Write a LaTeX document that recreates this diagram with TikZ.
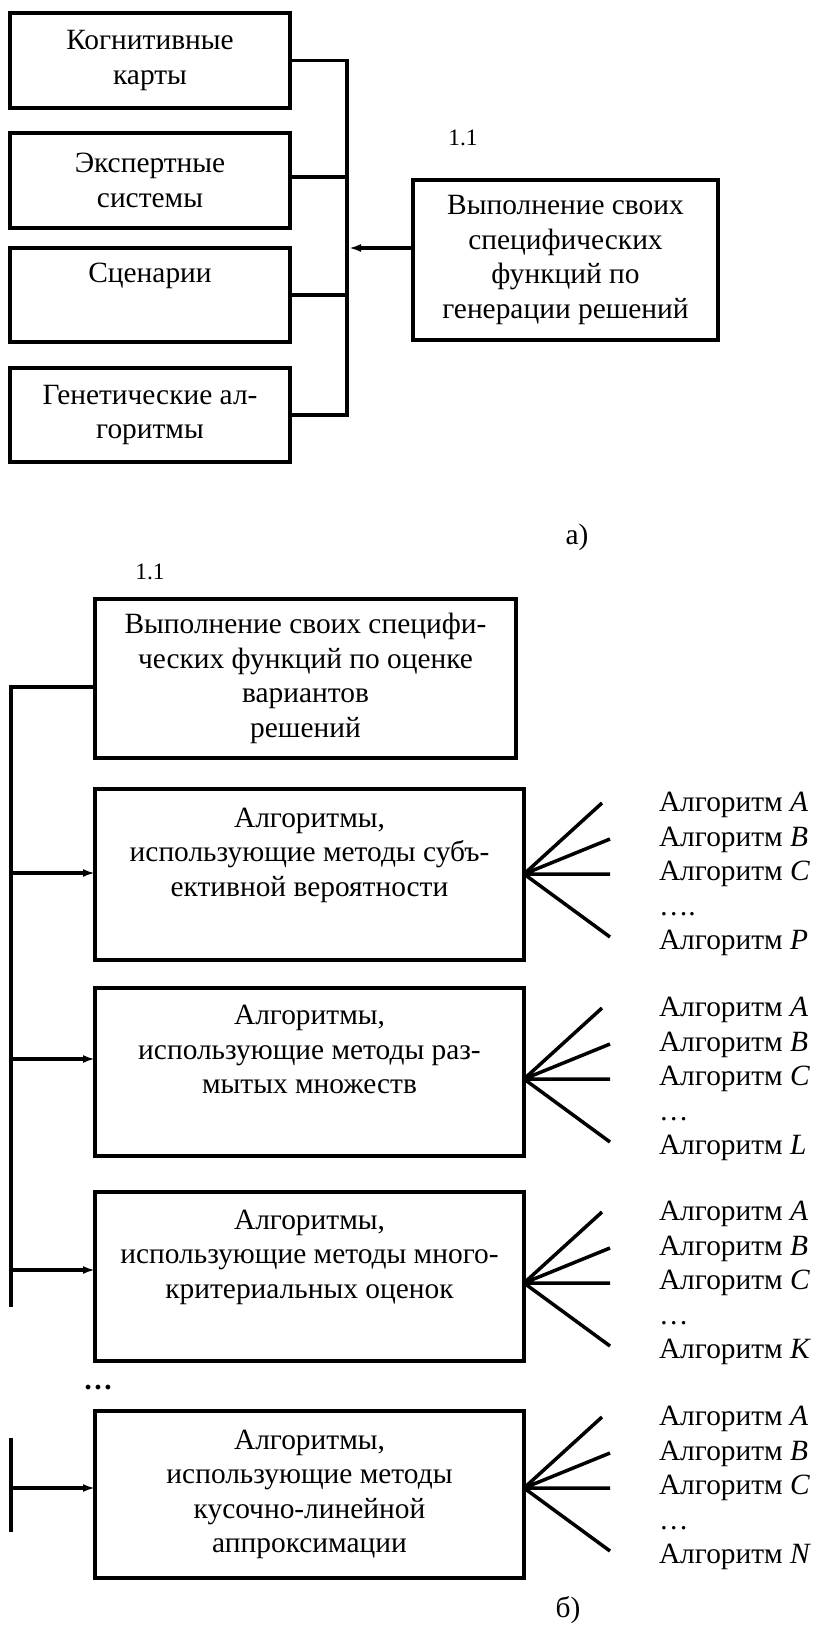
\documentclass[tikz,border=0pt]{standalone}
\usepackage{fontspec}
\setmainfont{Liberation Serif}
\usetikzlibrary{arrows.meta}
\begin{document}
\begin{tikzpicture}[x=1pt,y=-1pt,
  every node/.style={inner sep=0pt,outer sep=0pt},
  txt/.style={font=\fontsize{29.4}{34.5}\selectfont},
  small/.style={font=\fontsize{23.5}{28}\selectfont},
  blk/.style={draw,line width=3.5pt,txt,align=center,anchor=center},
  listtxt/.style={font=\fontsize{29.4}{34.5}\selectfont,align=left,anchor=west},
  wire/.style={line width=3.5pt,line cap=rect},
  fan/.style={line width=3.5pt},
  feed/.style={line width=3.5pt,-{Latex[length=12pt,width=8pt]}},
]
\useasboundingbox (0,0) rectangle (816,1631);

% ---------- a) generation of decisions ----------
\node[blk,minimum width=280pt,minimum height=95pt] (cog)  at (150,60.5) {Когнитивные\\карты};
\node[blk,minimum width=280pt,minimum height=95pt] (exp)  at (150,180.5) {Экспертные\\системы};
\node[blk,minimum width=280pt,minimum height=94pt] (scen) at (150,295) {Сценарии\\\strut};
\node[blk,minimum width=280pt,minimum height=94pt] (gen)  at (150,415) {Генетические ал-\\горитмы};
\node[blk,minimum width=305pt,minimum height=160pt] (genf) at (565.5,260)
  {Выполнение своих\\специфических\\функций по\\генерации решений};
\node[small] (numa) at (463,138) {1.1};
\node[txt] (capa) at (577,537) {а)};

\coordinate (bus) at (347,0);
\draw[wire] (cog.east) -- (cog.east -| bus);
\draw[wire] (exp.east |- 0,177) -- (bus |- 0,177);
\draw[wire] (scen.east) -- (scen.east -| bus);
\draw[wire] (gen.east) -- (gen.east -| bus);
\draw[wire] (cog.east -| bus) -- (gen.east -| bus);
\draw[feed] (genf.west |- 0,248) -- (349,248);

% ---------- b) evaluation of decision variants ----------
\node[small] (numb) at (150,572) {1.1};
\node[blk,minimum width=421pt,minimum height=159pt] (eval) at (305.5,678.5)
  {Выполнение своих специфи-\\ческих функций по оценке\\вариантов\\решений};
\node[blk,minimum width=429pt,minimum height=171pt] (subj) at (309.5,874.5)
  {Алгоритмы,\\использующие методы субъ-\\ективной вероятности\\\strut};
\node[blk,minimum width=429pt,minimum height=168pt] (fuzzy) at (309.5,1072)
  {Алгоритмы,\\использующие методы раз-\\мытых множеств\\\strut};
\node[blk,minimum width=429pt,minimum height=169pt] (multi) at (309.5,1276.5)
  {Алгоритмы,\\использующие методы много-\\критериальных оценок\\\strut};
\node[blk,minimum width=429pt,minimum height=167pt] (piece) at (309.5,1494.5)
  {Алгоритмы,\\использующие методы\\кусочно-линейной\\аппроксимации};
\node[txt] (more) at (98,1388) {\textbf{…}};
\node[txt] (capb) at (568,1610) {б)};

% trunk feeding the method groups
\coordinate (trT) at (11,687);
\coordinate (trB) at (11,1305);
\draw[wire] (eval.west |- trT) -- (trT) -- (trB);
\draw[feed] (trT |- 0,873)  -- (subj.west |- 0,873);
\draw[feed] (trT |- 0,1059) -- (fuzzy.west |- 0,1059);
\draw[feed] (trT |- 0,1270) -- (multi.west |- 0,1270);
\coordinate (tsT) at (11,1440);
\coordinate (tsB) at (11,1530);
\draw[wire] (tsT) -- (tsB);
\draw[feed] (tsT |- 0,1488) -- (piece.west |- 0,1488);

% fans of individual algorithms
\foreach \b/\y/\z/\d in {subj/874/P/….,fuzzy/1079/L/…,multi/1283/K/…,piece/1488/N/…}{
  \coordinate (\b-o) at (\b.east |- 0,\y);
  \draw[fan] (\b-o) -- ++(78,-71) (\b-o) -- ++(86,-35)
             (\b-o) -- ++(86,0)   (\b-o) -- ++(86,63);
  \node[listtxt] (\b-list) at (659,\y)
    {Алгоритм \textit{A}\\Алгоритм \textit{B}\\Алгоритм \textit{C}\\\d\\Алгоритм \textit{\z}};
}
\end{tikzpicture}
\end{document}
